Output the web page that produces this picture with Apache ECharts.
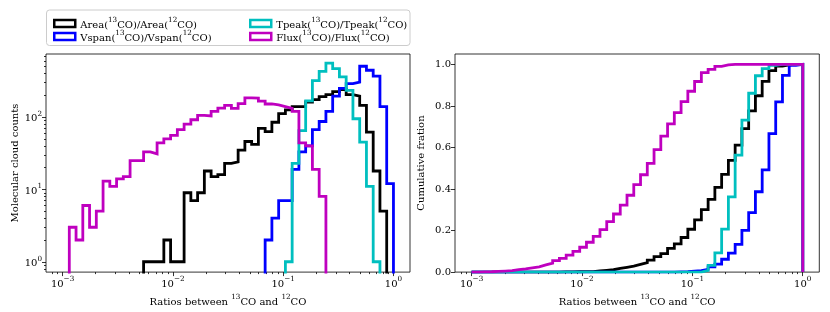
<!DOCTYPE html>
<html><head><meta charset="utf-8">
<script src="https://cdn.jsdelivr.net/npm/echarts@6/dist/echarts.min.js"></script>
<style>html,body{margin:0;padding:0;background:#fff}#c{width:830px;height:312px}</style>
</head><body><div id="c"></div>
<script>
// ---- data ----
const seriesNames = [
  'Area(\u00b9\u00b3CO)/Area(\u00b9\u00b2CO)',
  'Vspan(\u00b9\u00b3CO)/Vspan(\u00b9\u00b2CO)',
  'Tpeak(\u00b9\u00b3CO)/Tpeak(\u00b9\u00b2CO)',
  'Flux(\u00b9\u00b3CO)/Flux(\u00b9\u00b2CO)'
];
// 49 log-spaced bins between 1e-3 and 1e0 (50 edges)
const binLogMin = -3, binLogMax = 0, binEdgeCount = 50;
const areaCounts = [0,0,0,0,0,0,0,0,0,0,0,0,
  1,1,1,2,1,1,9,7,9,18,15,16,23,24,35,46,42,70,63,85,112,126,140,140,
  162,175,192,205,225,240,205,195,145,62,18,5,0];
const vspanCounts = [0,0,0,0,0,0,0,0,0,0,0,0,0,0,0,0,0,0,0,0,0,0,0,0,0,0,0,0,0,0,
  2,4,7,7,19,33,40,67,87,120,195,250,290,305,505,445,370,140,12];
const tpeakCounts = [0,0,0,0,0,0,0,0,0,0,0,0,0,0,0,0,0,0,0,0,0,0,0,0,0,0,0,0,0,0,0,0,0,
  1,23,65,168,320,430,560,470,360,235,95,45,11,1,0,0];
const fluxCounts = [0,3,2,6,3,5,13,11,14,15,25,25,33,31,44,50,
  56,67,80,92,106,104,120,133,145,132,154,185,183,166,152,148,140,132,120,44,40,19,8,
  0,0,0,0,0,0,0,0,0,0];
const xMajorTicks = [0.001, 0.01, 0.1, 1];
const yMajorTicks = [1, 10, 100];
const cumTicks = [0, 0.2, 0.4, 0.6, 0.8, 1.0];
const xAxisTitle = 'Ratios between \u00b9\u00b3CO and \u00b9\u00b2CO';
const yTitleLeft = 'Molecular cloud counts';
const yTitleRight = 'Cumulative fration';

// ---- styling ----
const COLORS = ['#000000', '#0000ff', '#00bfbf', '#bf00bf'];
const FONT = 'DejaVu Serif';
const XMIN = Math.pow(10, -3.15), XMAX = Math.pow(10, 0.15);
const YMIN = Math.pow(10, -0.143), YMAX = Math.pow(10, 2.873);
const FLOOR = 0.05;
const LW = 2.8;

const allCounts = [areaCounts, vspanCounts, tpeakCounts, fluxCounts];
const edges = Array.from({length: binEdgeCount}, (_, i) =>
  Math.pow(10, binLogMin + (binLogMax - binLogMin) * i / (binEdgeCount - 1)));

function histLine(counts) {
  let f = counts.findIndex(c => c > 0), l = counts.length - 1;
  while (counts[l] === 0) l--;
  const pts = [[edges[f], FLOOR]];
  for (let i = f; i <= l; i++) {
    const v = counts[i] > 0 ? counts[i] : FLOOR;
    pts.push([edges[i], v], [edges[i + 1], v]);
  }
  pts.push([edges[l + 1], FLOOR]);
  return pts;
}
function cumLine(counts) {
  const total = counts.reduce((a, b) => a + b, 0);
  let s = 0;
  const pts = [[edges[0], 0]];
  counts.forEach((c, i) => { s += c; const v = s / total; pts.push([edges[i], v], [edges[i + 1], v]); });
  pts.push([edges[edges.length - 1], 0]);
  return pts;
}
function minorOf(majors, lo, hi) {
  const out = [];
  const all = [majors[0] / 10].concat(majors);
  all.forEach(m => { for (let k = 2; k <= 9; k++) { const v = m * k; if (v >= lo && v <= hi) out.push(v); } });
  return out;
}
// convert unicode superscript digits into rich-text superscript tokens
const SUPMAP = {'\u2070':'0','\u00b9':'1','\u00b2':'2','\u00b3':'3','\u207b':'\u2212'};
function richify(str) {
  let out = '', buf = '', sup = '';
  const flushN = () => { if (buf) { out += '{n|' + buf + '}'; buf = ''; } };
  const flushS = () => { if (sup) { out += '{s|' + sup + '}'; sup = ''; } };
  for (const ch of str) {
    if (SUPMAP[ch] !== undefined) { flushN(); sup += SUPMAP[ch]; }
    else { flushS(); buf += ch; }
  }
  flushN(); flushS();
  return out;
}
function powLabel(v) {
  const e = Math.round(Math.log10(v));
  return '{n|10}{s|' + (e < 0 ? '\u2212' + (-e) : e) + '}';
}
const xMinor = minorOf(xMajorTicks, XMIN, XMAX);
const yMinor = minorOf(yMajorTicks, YMIN, YMAX);

const RICH = {
  n: {fontFamily: FONT, fontSize: 10, color: '#000', lineHeight: 13, verticalAlign: 'bottom'},
  s: {fontFamily: FONT, fontSize: 7.2, color: '#000', lineHeight: 8, verticalAlign: 'top'}
};
const tickStyle = {color: '#000', width: 0.8};
const labelStyle = {fontFamily: FONT, fontSize: 10, color: '#000', rich: RICH};
const nameStyle = {fontFamily: FONT, fontSize: 10, color: '#000', rich: RICH};

function logX(grid) {
  return [
    {gridIndex: grid, type: 'log', logBase: 10, min: XMIN, max: XMAX,
     axisLine: {show: false}, splitLine: {show: false},
     axisTick: {customValues: xMajorTicks, length: 4, lineStyle: tickStyle},
     axisLabel: Object.assign({customValues: xMajorTicks, formatter: powLabel, margin: 4}, labelStyle),
     name: richify(xAxisTitle), nameLocation: 'middle', nameGap: 8, nameTextStyle: nameStyle},
    {gridIndex: grid, type: 'log', logBase: 10, min: XMIN, max: XMAX, position: 'bottom',
     axisLine: {show: false}, splitLine: {show: false}, axisLabel: {show: false},
     axisTick: {customValues: xMinor, length: 2, lineStyle: tickStyle}}
  ];
}

const series = [];
allCounts.forEach((counts, k) => {
  series.push({type: 'line', name: seriesNames[k], xAxisIndex: 0, yAxisIndex: 0,
    data: histLine(counts), showSymbol: false, symbol: 'none', clip: true,
    lineStyle: {color: COLORS[k], width: LW, join: 'miter'}, itemStyle: {color: COLORS[k]},
    z: 2 + k});
  series.push({type: 'line', name: seriesNames[k], xAxisIndex: 2, yAxisIndex: 2,
    data: cumLine(counts), showSymbol: false, symbol: 'none', clip: true,
    lineStyle: {color: COLORS[k], width: LW, join: 'miter'}, itemStyle: {color: COLORS[k]},
    z: 2 + k});
});

function legendItems(idx) {
  return idx.map(k => ({name: seriesNames[k], icon: 'rect',
    itemStyle: {color: 'rgba(0,0,0,0)', borderColor: COLORS[k], borderWidth: 2.5}}));
}
const legendCommon = {orient: 'vertical', top: 12, itemWidth: 21, itemHeight: 7, itemGap: 0,
  selectedMode: false, formatter: name => richify(name), textStyle: labelStyle};

const option = {
  animation: false,
  backgroundColor: '#fff',
  graphic: [{type: 'rect', z: 0, shape: {x: 46.5, y: 10, width: 363.5, height: 35.5, r: 3},
    style: {fill: '#fff', stroke: '#cccccc', lineWidth: 1}}],
  legend: [
    Object.assign({left: 48, data: legendItems([0, 1])}, legendCommon),
    Object.assign({left: 244, data: legendItems([2, 3])}, legendCommon)
  ],
  grid: [
    {left: 46, top: 54, width: 364, height: 218.7, show: true, borderColor: '#000', borderWidth: 0.8, backgroundColor: 'transparent', containLabel: false},
    {left: 455, top: 54, width: 364.3, height: 218.7, show: true, borderColor: '#000', borderWidth: 0.8, backgroundColor: 'transparent', containLabel: false}
  ],
  xAxis: logX(0).concat(logX(1)),
  yAxis: [
    {gridIndex: 0, type: 'log', logBase: 10, min: YMIN, max: YMAX,
     axisLine: {show: false}, splitLine: {show: false},
     axisTick: {customValues: yMajorTicks, length: 4, lineStyle: tickStyle},
     axisLabel: Object.assign({customValues: yMajorTicks, formatter: powLabel, margin: 4}, labelStyle),
     name: yTitleLeft, nameLocation: 'middle', nameGap: 26, nameTextStyle: nameStyle},
    {gridIndex: 0, type: 'log', logBase: 10, min: YMIN, max: YMAX, position: 'left',
     axisLine: {show: false}, splitLine: {show: false}, axisLabel: {show: false},
     axisTick: {customValues: yMinor, length: 2, lineStyle: tickStyle}},
    {gridIndex: 1, type: 'value', min: 0, max: 1.05,
     axisLine: {show: false}, splitLine: {show: false},
     axisTick: {customValues: cumTicks, length: 4, lineStyle: tickStyle},
     axisLabel: Object.assign({customValues: cumTicks, formatter: v => v.toFixed(1), margin: 4}, labelStyle),
     name: yTitleRight, nameLocation: 'middle', nameGap: 29, nameTextStyle: nameStyle}
  ],
  series: series
};
const chart = echarts.init(document.getElementById('c'), null, {renderer: 'canvas'});
chart.setOption(option);
</script></body></html>
